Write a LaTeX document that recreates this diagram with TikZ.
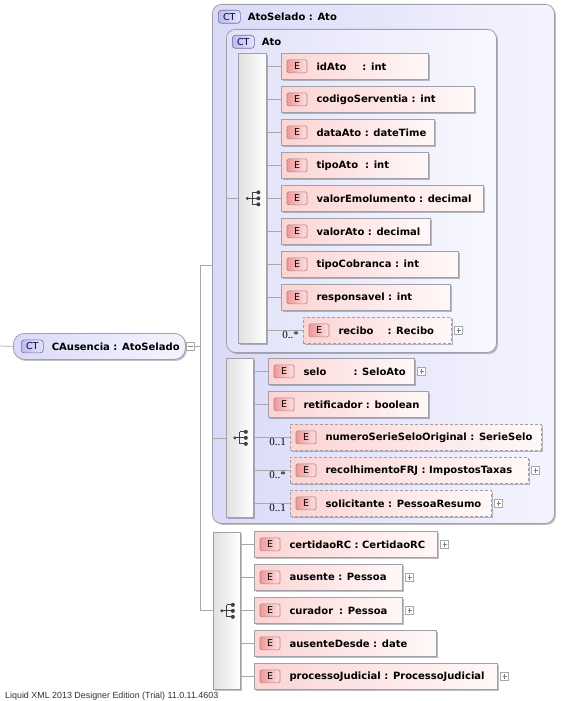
\documentclass[tikz,border=0pt]{standalone}
\usepackage{fontspec}
\setmainfont{DejaVu Sans}
\newfontfamily\lsans{Liberation Sans}
\newfontfamily\lserif{Liberation Serif}
\usetikzlibrary{shadows}
\definecolor{lineg}{HTML}{A8A8A8}
\definecolor{boxb}{HTML}{A0A0A8}
\definecolor{lavL}{HTML}{DADAF8}
\definecolor{lavR}{HTML}{F4F4FF}
\definecolor{lav2L}{HTML}{E2E2FA}
\definecolor{lav2R}{HTML}{F8F8FF}
\definecolor{pinkL}{HTML}{FCD4D4}
\definecolor{pinkR}{HTML}{FFF8F8}
\definecolor{ebL}{HTML}{F09898}
\definecolor{ebR}{HTML}{FFE0E0}
\definecolor{ebB}{HTML}{A88888}
\definecolor{ctL}{HTML}{BCBCF0}
\definecolor{ctR}{HTML}{E4E4FC}
\definecolor{ctB}{HTML}{7070A0}
\definecolor{icong}{HTML}{404040}
\tikzset{
  shd/.style={drop shadow={shadow xshift=1.5pt,shadow yshift=-1.5pt,opacity=0.25,fill=black}},
  ctframe/.style={draw=boxb,line width=0.8pt,rounded corners=9pt,left color=lavL,right color=lavR,shd,inner sep=0},
  ctframe2/.style={draw=boxb,line width=0.8pt,rounded corners=9pt,left color=lav2L,right color=lav2R,shd,inner sep=0},
  ctnode/.style={draw=boxb,line width=0.8pt,rounded corners=11pt,left color=lavL,right color=lavR,shd,inner sep=0},
  seqbar/.style={draw=boxb,line width=0.7pt,left color=black!12,right color=white,shd,inner sep=0,minimum width=27pt},
  elbox/.style={draw=boxb,line width=0.7pt,left color=pinkL,right color=pinkR,shd,inner sep=0,minimum height=26pt},
  optbox/.style={dash pattern=on 3pt off 2pt},
  ebadge/.style={draw=ebB,line width=0.6pt,rounded corners=1.5pt,left color=ebL,right color=ebR,minimum width=20pt,minimum height=13pt,inner sep=0,font=\fontsize{9.5}{10}\selectfont},
  ctbadge/.style={draw=ctB,line width=0.6pt,rounded corners=3pt,left color=ctL,right color=ctR,minimum width=22pt,minimum height=13pt,inner sep=0,font=\fontsize{9.5}{10}\selectfont,text=black!75!blue},
  eltext/.style={inner sep=0,font=\fontsize{10}{12}\selectfont\bfseries},
  mult/.style={inner sep=0.8pt,font=\lserif\fontsize{11}{12}\selectfont},
  conn/.style={draw=lineg,line width=0.7pt},
  pbox/.style={draw=lineg,fill=white,line width=0.5pt,minimum size=8pt,inner sep=0},
  plusbox/.style={pbox,path picture={\draw[gray,line width=0.5pt] ([xshift=1.8pt]path picture bounding box.west) -- ([xshift=-1.8pt]path picture bounding box.east) ([yshift=1.8pt]path picture bounding box.south) -- ([yshift=-1.8pt]path picture bounding box.north);}},
  minusbox/.style={pbox,path picture={\draw[gray,line width=0.5pt] ([xshift=1.8pt]path picture bounding box.west) -- ([xshift=-1.8pt]path picture bounding box.east);}},
}
\newcommand{\XEl}[6]{%
  \node[elbox,#6,minimum width={#4-#2},anchor=north west] (#1) at (#2,#3) {};
  \node[ebadge] (#1-b) at ([xshift=16pt]#1.west) {E};
  \node[eltext,anchor=west] (#1-t) at ([xshift=9pt]#1-b.east) {#5};
}
\newcommand{\XPlus}[1]{\node[plusbox] (#1-p) at ([xshift=7pt]#1.east) {};}
\newcommand{\XSeqIcon}[1]{%
  \begin{scope}[shift={(#1.center)}]
    \draw[icong,line width=0.8pt] (-5,0) -- (0,0) (0,-6) -- (0,6) (0,-6) -- (6,-6) (0,0) -- (6,0) (0,6) -- (6,6);
    \fill[icong] (-5,0) circle (1.7pt) (6,-6) circle (2pt) (6,0) circle (2pt) (6,6) circle (2pt);
  \end{scope}}
\begin{document}
\begin{tikzpicture}[x=1pt,y=-1pt]
\useasboundingbox[fill=white] (0,0) rectangle (567,701);

% root element
\node[ctnode,anchor=north west,minimum width=172pt,minimum height=26pt] (root) at (13,333) {};
\node[ctbadge,anchor=west] (root-b) at ([xshift=8pt]root.west) {CT};
\node[eltext,anchor=west] (root-t) at ([xshift=8pt]root-b.east) {CAusencia : AtoSelado};
\node[minusbox] (root-m) at (190.5,346) {};
\coordinate (lstart) at (0,346);
\coordinate (jtop) at (200,265);
\coordinate (jbot) at (200,610.5);

% outer complex type frame
\node[ctframe,anchor=north west,minimum width=342pt,minimum height=519pt] (outer) at (212,4) {};
\node[ctbadge,anchor=north west] (outer-b) at (218,10) {CT};
\node[eltext,anchor=west] (outer-t) at ([xshift=7pt]outer-b.east) {AtoSelado : Ato};

% inner base type frame
\node[ctframe2,anchor=north west,minimum width=270pt,minimum height=323pt] (ato) at (226,29) {};
\node[ctbadge,anchor=north west] (ato-b) at (232,35) {CT};
\node[eltext,anchor=west] (ato-t) at ([xshift=7pt]ato-b.east) {Ato};

% sequence bars
\node[seqbar,anchor=north west,minimum width=28pt,minimum height=290pt] (seqA) at (238,53) {};
\node[seqbar,anchor=north west,minimum height=159pt] (seqB) at (226,358) {};
\node[seqbar,anchor=north west,minimum height=157pt] (seqC) at (213,532) {};
\XSeqIcon{seqA}
\XSeqIcon{seqB}
\XSeqIcon{seqC}

% elements of Ato
\XEl{idAto}{281}{53}{428}{idAto\hspace{16pt}: int}{}
\XEl{codigo}{281}{86}{474}{codigoServentia : int}{}
\XEl{dataAto}{281}{119}{434}{dataAto : dateTime}{}
\XEl{tipoAto}{281}{152}{428}{tipoAto\hspace{7pt}: int}{}
\XEl{valorEm}{281}{185}{483}{valorEmolumento : decimal}{}
\XEl{valorAto}{281}{218}{430}{valorAto : decimal}{}
\XEl{tipoCob}{281}{251}{458}{tipoCobranca : int}{}
\XEl{resp}{281}{284}{450}{responsavel : int}{}
\XEl{recibo}{303}{317}{451}{recibo\hspace{14pt}: Recibo}{optbox}
\XPlus{recibo}

% elements of AtoSelado sequence
\XEl{selo}{268}{358}{414}{selo\hspace{27pt}: SeloAto}{}
\XPlus{selo}
\XEl{retif}{268}{391}{428}{retificador : boolean}{}
\XEl{numSerie}{290}{424}{541}{numeroSerieSeloOriginal : SerieSelo}{optbox}
\XEl{recFRJ}{290}{457}{528}{recolhimentoFRJ : ImpostosTaxas}{optbox}
\XPlus{recFRJ}
\XEl{solic}{290}{490}{491}{solicitante : PessoaResumo}{optbox}
\XPlus{solic}

% elements of CAusencia sequence
\XEl{certRC}{254}{531}{437}{certidaoRC : CertidaoRC}{}
\XPlus{certRC}
\XEl{ausente}{254}{564}{402}{ausente : Pessoa}{}
\XPlus{ausente}
\XEl{curador}{254}{597}{402}{curador\hspace{6pt}: Pessoa}{}
\XPlus{curador}
\XEl{ausDesde}{254}{630}{436}{ausenteDesde : date}{}
\XEl{procJud}{254}{663}{497}{processoJudicial : ProcessoJudicial}{}
\XPlus{procJud}

% connectors
\draw[conn] (lstart) -- (root.west);
\draw[conn] (root-m.east) -- (root-m.east -| jtop);
\draw[conn] (jtop) -- (jbot);
\draw[conn] (jtop) -- (jtop -| outer.west);
\draw[conn] (jbot) -- (seqC.west |- jbot);
\draw[conn] (ato.west |- seqA.center) -- (seqA.west |- seqA.center);
\draw[conn] (outer.west |- seqB.center) -- (seqB.west |- seqB.center);
\foreach \e in {idAto,codigo,dataAto,tipoAto,valorEm,valorAto,tipoCob,resp}
  \draw[conn] (seqA.east |- \e.west) -- (\e.west);
\draw[conn] (seqA.east |- recibo.west) -- node[mult,below,pos=0.66]{0..*} (recibo.west);
\foreach \e in {selo,retif}
  \draw[conn] (seqB.east |- \e.west) -- (\e.west);
\draw[conn] (seqB.east |- numSerie.west) -- node[mult,below,pos=0.66]{0..1} (numSerie.west);
\draw[conn] (seqB.east |- recFRJ.west) -- node[mult,below,pos=0.66]{0..*} (recFRJ.west);
\draw[conn] (seqB.east |- solic.west) -- node[mult,below,pos=0.66]{0..1} (solic.west);
\foreach \e in {certRC,ausente,curador,ausDesde,procJud}
  \draw[conn] (seqC.east |- \e.west) -- (\e.west);

% footer
\node[anchor=west,inner sep=0,font=\lsans\fontsize{8.9}{10}\selectfont,text=black!80] (footer) at (5,696.5) {Liquid XML 2013 Designer Edition (Trial) 11.0.11.4603};
\end{tikzpicture}
\end{document}
